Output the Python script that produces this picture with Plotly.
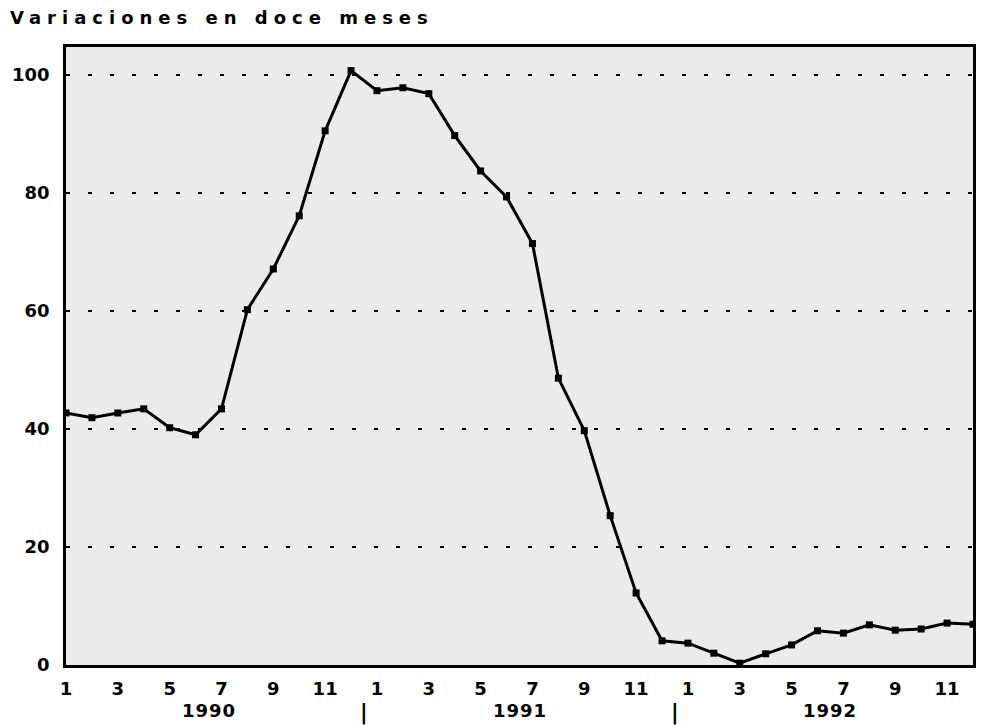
import plotly.graph_objects as go

years = ["1990", "1991", "1992"]
months = list(range(1, 13))
v1990 = [42.7, 41.9, 42.7, 43.4, 40.2, 39.0, 43.4, 60.2, 67.1, 76.1, 90.5, 100.7]
v1991 = [97.3, 97.8, 96.8, 89.7, 83.7, 79.3, 71.4, 48.6, 39.7, 25.3, 12.2, 4.1]
v1992 = [3.7, 2.0, 0.3, 1.9, 3.4, 5.8, 5.4, 6.8, 5.9, 6.1, 7.1, 6.9]
y_ticks = [0, 20, 40, 60, 80, 100]
title_text = "Variaciones en doce meses"

values = v1990 + v1991 + v1992
n_m = len(months)
xs = list(range(len(values)))
tickvals = [i for i in xs if months[i % n_m] % 2 == 1]
ticktext = [str(months[i % n_m]) for i in tickvals]

FONT = "DejaVu Sans"

fig = go.Figure()
fig.add_trace(go.Scatter(
    x=xs, y=values, mode="lines+markers",
    line=dict(color="black", width=3),
    marker=dict(symbol="square", size=7, color="black"),
    showlegend=False, hoverinfo="skip",
))

annotations = []
for j, yr in enumerate(years):
    annotations.append(dict(
        x=j * n_m + (n_m - 1) / 2, y=0, xref="x", yref="paper",
        yshift=-45, text='<b><span style="letter-spacing:1px">' + yr + '</span></b>',
        showarrow=False,
        font=dict(family=FONT, size=18, color="black"),
        xanchor="center", yanchor="middle",
    ))
    if j > 0:
        annotations.append(dict(
            x=j * n_m - 0.5, y=0, xref="x", yref="paper",
            yshift=-47, text="<b>|</b>", showarrow=False,
            font=dict(family=FONT, size=21, color="black"),
            xanchor="center", yanchor="middle",
        ))

fig.update_layout(
    width=981, height=725,
    margin=dict(l=66, r=5, t=47, b=60),
    paper_bgcolor="white",
    plot_bgcolor="#ebebeb",
    title=dict(
        text='<b><span style="letter-spacing:6px">' + title_text + '</span></b>',
        x=10 / 981, xanchor="left", xref="container",
        y=1 - 18 / 725, yanchor="middle", yref="container",
        font=dict(family=FONT, size=18, color="black"),
    ),
    xaxis=dict(
        range=[0, len(values) - 1],
        tickvals=tickvals, ticktext=["<b>" + t + "</b>" for t in ticktext],
        tickfont=dict(family=FONT, size=18, color="black"),
        showgrid=False, zeroline=False,
        showline=True, mirror=True, linecolor="black", linewidth=2.5,
        ticks="", ticklabelstandoff=6,
    ),
    yaxis=dict(
        range=[0, 104.7],
        tickvals=y_ticks, ticktext=["<b>" + str(t) + "</b>" for t in y_ticks],
        tickfont=dict(family=FONT, size=18, color="black"),
        showgrid=True, gridcolor="black", gridwidth=1.5, griddash="4px,18px",
        zeroline=False,
        showline=True, mirror=True, linecolor="black", linewidth=2.5,
        ticks="", ticklabelstandoff=10,
    ),
    annotations=annotations,
)

fig.write_html("out.html", config={"displayModeBar": False},
               post_script="document.body.style.margin='0px';")
